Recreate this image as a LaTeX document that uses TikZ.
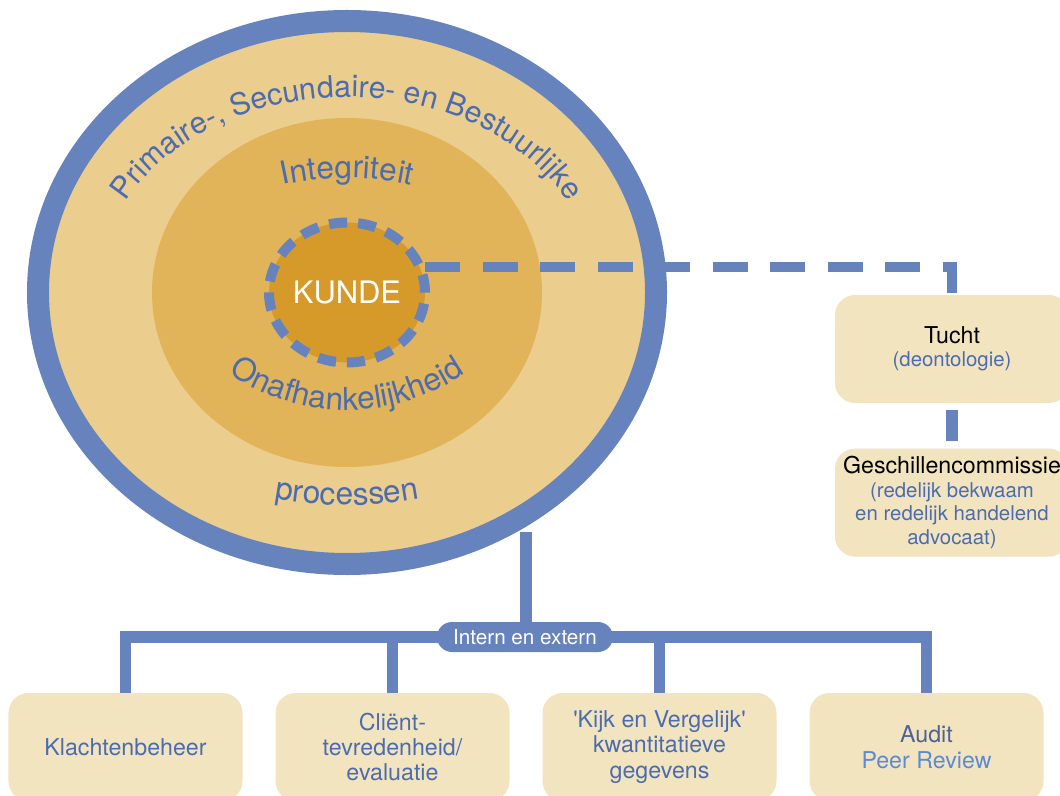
\documentclass[tikz,border=0pt]{standalone}
\usepackage{fontspec}
\setmainfont{TeX Gyre Heros}
\usepackage{tikz}
\usetikzlibrary{positioning,shapes.geometric,decorations.text}
\usepackage{xcolor}

\definecolor{ringblue}{HTML}{6683BE}
\definecolor{txtblue}{HTML}{4B6CAE}
\definecolor{outerfill}{HTML}{EBCD8E}
\definecolor{innerfill}{HTML}{E2B45A}
\definecolor{kundefill}{HTML}{D69A2A}
\definecolor{boxfill}{HTML}{F3E4C0}
\definecolor{auditblue}{HTML}{4D6394}
\definecolor{peerblue}{HTML}{5B8AD6}

\newcommand{\ringfont}{\color{txtblue}\fontsize{21.5}{23}\selectfont}
\newcommand{\layerfont}{\color{txtblue}\fontsize{22.5}{24}\selectfont}
\newcommand{\subtext}{\color{txtblue}\fontsize{14.5}{16.7}\selectfont}

\begin{document}
\begin{tikzpicture}[node distance=6.675cm,on grid,
	box/.style={rectangle,fill=boxfill,rounded corners=0.5cm,minimum width=5.85cm,minimum height=2.7cm,align=center,text=txtblue,font=\fontsize{16.5}{18.1}\selectfont},
	sidebox/.style={box,font=\fontsize{16.5}{16.7}\selectfont},
	link/.style={ringblue,line width=0.28cm}]
				  \useasboundingbox (0,0) rectangle (26.5,-19.9);
				  \coordinate (C) at (8.675,-7.3125);
				  \coordinate (bar) at (13.125,-15.925);
				  \coordinate (stemtop) at (13.15,-13.3);

				  \fill[outerfill] (C) ellipse [x radius=7.725cm, y radius=6.7875cm];
				  \fill[innerfill] (C) ellipse [x radius=4.875cm, y radius=4.3625cm];
				  \draw[link] (stemtop) -- (stemtop |- bar);

				  \node[ellipse,inner sep=0pt,fill=kundefill,draw=ringblue,line width=0.25cm,dash pattern=on 0.45cm off 0.277cm,
				        minimum width=3.9cm,minimum height=3.5cm,text=white,font=\fontsize{22}{22}\selectfont] (kunde) at (C) {KUNDE};
				  \node[sidebox]        (tucht) at (23.8,-8.725)    {{\color{black}Tucht}\\{\subtext (deontologie)}};
				  \node[sidebox]        (geschil) [below =3.84cm of tucht]    {{\color{black}Geschillencommissie}\\{\subtext (redelijk bekwaam}\\{\subtext en redelijk handelend}\\{\subtext advocaat)}};

				\tikzset{dashlink/.style={ringblue,line width=0.25cm,dash pattern=on 0.875cm off 0.5625cm}}
				\draw[dashlink] (kunde.18) -| (tucht.north);
				\draw[link,shorten <=5pt,shorten >=5pt] (tucht) -- (geschil);
				\draw[ringblue,line width=0.55cm] (C) ellipse [x radius=7.725cm, y radius=6.7875cm];

				\tikzset{arctext/.style={decorate,decoration={text along path,text align=center,text={#1}}}}
				\path[arctext={|\ringfont|Primaire-, Secundaire- en Bestuurlijke}]
					(8.675,-7.175) ++(170:6.175cm and 4.75cm) arc [start angle=170,end angle=10,x radius=6.175cm,y radius=4.75cm];
				\path[arctext={|\layerfont|Integriteit}]
					(8.675,-11.95) ++(110:7.5cm) arc [start angle=110,end angle=70,radius=7.5cm];
				\path[arctext={|\layerfont|Onafhankelijkheid}]
					(8.675,-5.0) ++(225:5.25cm) arc [start angle=225,end angle=315,radius=5.25cm];
				\path[arctext={|\layerfont|processen}]
					(8.675,-2.625) ++(250:10cm) arc [start angle=250,end angle=290,radius=10cm];

				  \node[box]          (klacht) at (3.1375,-18.675) {Klachtenbeheer};
				  \node[box]          (tevred) [right =of klacht]    {Cliënt-\\tevredenheid/\\evaluatie};
				  \node[box]          (kijk) [right =of tevred]    {\textquotesingle Kijk en Vergelijk\textquotesingle\\kwantitatieve\\gegevens};
				  \node[box]          (audit) [right =of kijk]    {{\color{auditblue}Audit}\\{\color{peerblue}Peer Review}};

				\draw[link] (klacht.north) |- (bar) -| (audit.north);
				\draw[link] (tevred.north) -- (tevred.north |- bar);
				\draw[link] (kijk.north) -- (kijk.north |- bar);
				\node[fill=ringblue,rounded corners=0.375cm,minimum width=4.4cm,minimum height=0.75cm,inner sep=0pt,
				      text=white,font=\fontsize{14.7}{15}\selectfont] (intern) at (bar) {Intern en extern};
			\end{tikzpicture}
\end{document}
